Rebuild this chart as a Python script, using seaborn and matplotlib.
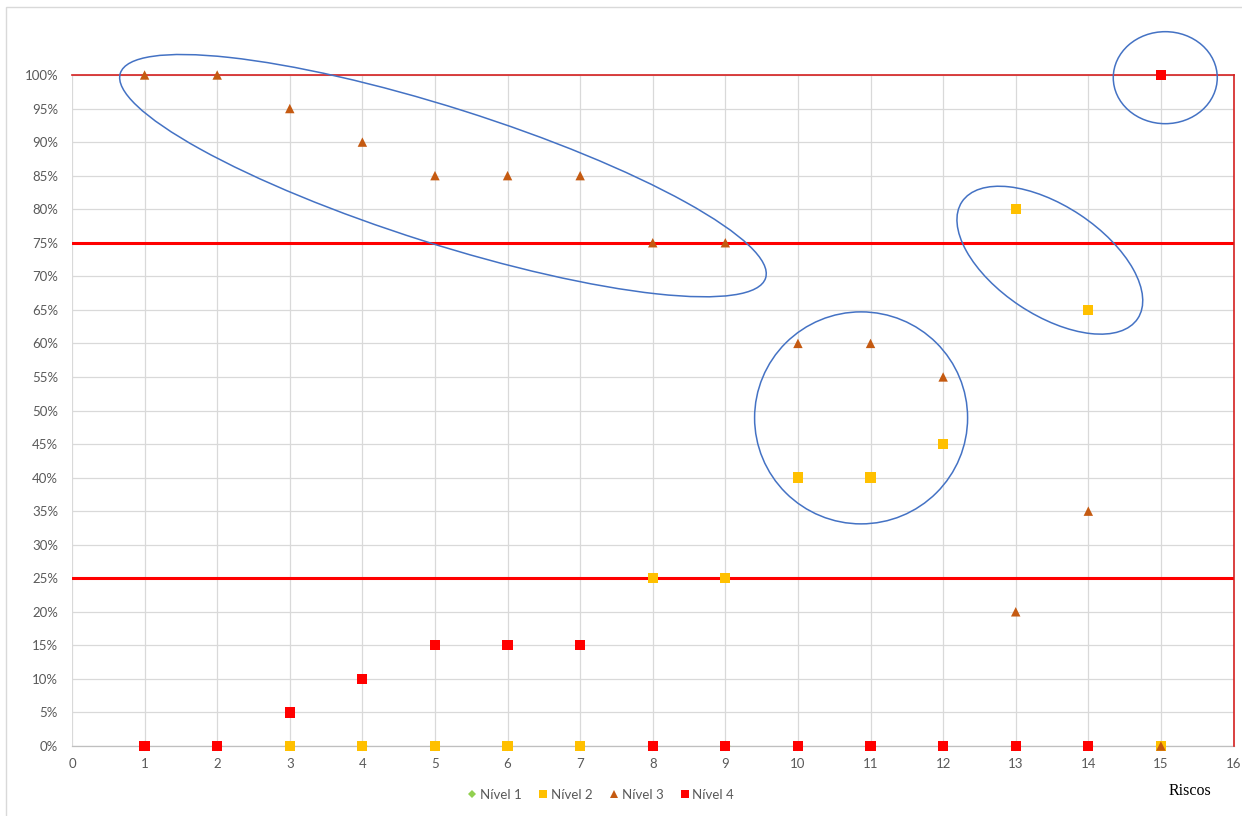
import matplotlib
matplotlib.use("Agg")
import matplotlib.pyplot as plt
import matplotlib.transforms as mtransforms
from matplotlib.patches import Ellipse, Rectangle
from matplotlib.ticker import PercentFormatter, MultipleLocator
import numpy as np
import pandas as pd
import seaborn as sns

# Risk index (x axis) and the share of each level per risk (fractions of 1)
riscos = list(range(1, 16))
nivel_1 = [0, 0, 0, 0, 0, 0, 0, 0, 0, 0, 0, 0, 0, 0, 0]
nivel_2 = [0, 0, 0, 0, 0, 0, 0, 0.25, 0.25, 0.40, 0.40, 0.45, 0.80, 0.65, 0]
nivel_3 = [1.00, 1.00, 0.95, 0.90, 0.85, 0.85, 0.85, 0.75, 0.75, 0.60, 0.60, 0.55, 0.20, 0.35, 0]
nivel_4 = [0, 0, 0.05, 0.10, 0.15, 0.15, 0.15, 0, 0, 0, 0, 0, 0, 0, 1.00]
level_names = ["Nível 1", "Nível 2", "Nível 3", "Nível 4"]
thresholds = [0.75, 0.25]
x_label = "Riscos"

df = pd.concat(
    [pd.DataFrame({"Risco": riscos, "Valor": vals, "Nível": name})
     for name, vals in zip(level_names, [nivel_1, nivel_2, nivel_3, nivel_4])],
    ignore_index=True,
)

sns.set_theme(style="white")
plt.rcParams["font.family"] = ["Lato", "DejaVu Sans"]

fig = plt.figure(figsize=(12.42, 8.16), dpi=100)
ax = fig.add_axes([72 / 1242, 70 / 816, (1233.5 - 72) / 1242, (746 - 75) / 816])

palette = {"Nível 1": "#92D050", "Nível 2": "#FFC000", "Nível 3": "#C55A11", "Nível 4": "#FF0000"}
markers = {"Nível 1": "D", "Nível 2": "s", "Nível 3": "^", "Nível 4": "s"}
sizes = {"Nível 1": 28, "Nível 2": 54, "Nível 3": 46, "Nível 4": 54}

sns.scatterplot(
    data=df, x="Risco", y="Valor", hue="Nível", style="Nível",
    palette=palette, markers=markers, size="Nível", sizes=sizes,
    linewidth=0, ax=ax, legend=True, zorder=5,
)
for coll in ax.collections:
    coll.set_clip_on(False)

ax.set_xlim(0, 16)
ax.set_ylim(0, 1.0)
ax.xaxis.set_major_locator(MultipleLocator(1))
ax.yaxis.set_major_locator(MultipleLocator(0.05))
ax.yaxis.set_major_formatter(PercentFormatter(1.0, decimals=0))
ax.grid(True, color="#D9D9D9", linewidth=0.9, zorder=0)
ax.set_axisbelow(True)
ax.tick_params(axis="both", length=0, colors="#595959", labelsize=9.5)
ax.tick_params(axis="y", pad=10)
ax.tick_params(axis="x", pad=9)
ax.set_xlabel("")
ax.set_ylabel("")

ax.spines["left"].set_visible(False)
ax.spines["bottom"].set_color("#BFBFBF")
ax.spines["bottom"].set_linewidth(0.9)
for side in ["top", "right"]:
    ax.spines[side].set_color("#D42020")
    ax.spines[side].set_linewidth(1.2)
    ax.spines[side].set_zorder(3)

for t in thresholds:
    ax.axhline(t, color="#FF0000", linewidth=2.2, zorder=3)

# Highlight groups of risks with outlined ellipses (sizes in pixels)
ellipses = [
    (5.11, 0.850, 677, 136, -17.6),
    (10.87, 0.489, 213, 212, 0),
    (13.47, 0.724, 211, 109, -33.6),
    (15.06, 0.996, 104, 92, 0),
]
for cx, cy, w, h, ang in ellipses:
    tr = fig.dpi_scale_trans + mtransforms.ScaledTranslation(cx, cy, ax.transData)
    e = Ellipse((0, 0), w / 100, h / 100, angle=ang, transform=tr,
                fill=False, edgecolor="#4472C4", linewidth=1.1, zorder=6, clip_on=False)
    ax.add_artist(e)

# Legend below the plot
handles, labels = ax.get_legend_handles_labels()
pairs = [(h, l) for h, l in zip(handles, labels) if l in level_names]
leg = ax.legend(
    [p[0] for p in pairs], [p[1] for p in pairs],
    loc="center", bbox_to_anchor=(600 / 1242, 1 - 795 / 816), bbox_transform=fig.transFigure,
    ncol=4, frameon=False, fontsize=9.5, handletextpad=0.1, columnspacing=1.1,
    handlelength=1.0, markerscale=0.8,
)
for txt in leg.get_texts():
    txt.set_color("#595959")

fig.text(1190 / 1242, 1 - 791 / 816, x_label, ha="center", va="center",
         fontsize=11.5, family="Liberation Serif", color="black")

# Outer chart border
fig.patches.append(Rectangle((6 / 1242, -0.1), 1.2, (816 - 7) / 816 + 0.1,
                             transform=fig.transFigure, fill=False,
                             edgecolor="#D9D9D9", linewidth=1.0))

fig.savefig("out.png", dpi=100)
